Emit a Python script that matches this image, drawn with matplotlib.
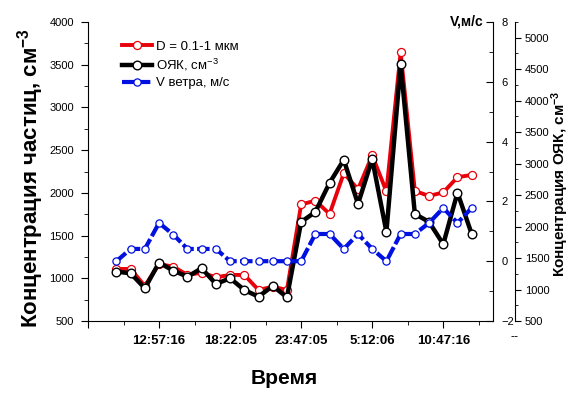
import matplotlib.pyplot as plt
import numpy as np
from matplotlib.ticker import MultipleLocator

plt.rcParams['font.family'] = ['Liberation Sans', 'DejaVu Sans']
plt.rcParams['mathtext.fontset'] = 'custom'
plt.rcParams['mathtext.rm'] = 'Liberation Sans'
plt.rcParams['mathtext.bf'] = 'Liberation Sans:bold'
plt.rcParams['mathtext.default'] = 'regular'

# ---------------------------------------------------------------------------
# data (x = sample index, labelled with times)
# ---------------------------------------------------------------------------
idx = np.arange(2, 28)

d_small = [1109, 1109, 910, 1167, 1136, 1039, 1066, 1012, 1039, 1039, 863, 902, 863,
           1864, 1909, 1753, 2230, 2042, 2438, 2016, 3646, 2022, 1964, 2005, 2183, 2210]

oyak = [1284, 1258, 1020, 1427, 1300, 1204, 1338, 1088, 1179, 993, 886, 1057, 877,
        2074, 2233, 2694, 3060, 2360, 3071, 1915, 4586, 2201, 2074, 1720, 2540, 1883]

wind = [0, 0.41, 0.41, 1.28, 0.89, 0.41, 0.41, 0.41, 0, 0, 0, 0, 0,
        0, 0.91, 0.91, 0.41, 0.91, 0.41, 0, 0.91, 0.91, 1.28, 1.78, 1.28, 1.78]

xtick_pos = [0, 5, 10, 15, 20, 25]
xtick_labels = ['', '12:57:16', '18:22:05', '23:47:05', '5:12:06', '10:47:16']

# ---------------------------------------------------------------------------
fig = plt.figure(figsize=(5.83, 3.95), dpi=100)
ax = fig.add_axes([88 / 583, 1 - 321 / 395, 405 / 583, 299 / 395])
ax_k = ax.twinx()
ax_v = ax.twinx()
for a in (ax_k, ax_v):
    a.patch.set_visible(False)

l1, = ax.plot(idx, d_small, color='#e8000b', lw=2.8, marker='o', ms=5.8,
              mfc='white', mec='#e8000b', mew=0.9, label='D = 0.1-1 мкм')
l2, = ax_k.plot(idx, oyak, color='black', lw=3.2, marker='o', ms=6.2,
                mfc='white', mec='black', mew=1.0, label='ОЯК, см$^{-3}$')
l3, = ax_v.plot(idx, wind, color='#0010e0', lw=3.0, dashes=(3.0, 0.8), marker='o',
                ms=5.2, mfc='white', mec='#0010e0', mew=0.9, label='V ветра, м/с')

# left axis
ax.set_xlim(0, 28.5)
ax.set_ylim(500, 4000)
ax.yaxis.set_major_locator(MultipleLocator(500))
ax.yaxis.set_minor_locator(MultipleLocator(250))
ax.set_xticks(xtick_pos)
ax.set_xticklabels(xtick_labels, fontsize=9.5, fontweight='bold')
ax.xaxis.set_minor_locator(MultipleLocator(2.5))
ax.tick_params(axis='y', labelsize=8, length=5, pad=5)
ax.tick_params(axis='y', which='minor', length=3)
ax.tick_params(axis='x', length=5, pad=5)
ax.tick_params(axis='x', which='minor', length=3)
ax.spines['top'].set_visible(False)
ax.spines['right'].set_visible(False)
ax.text(30, -0.035, '--', transform=ax.get_xaxis_transform(), ha='center', va='top',
        fontsize=9, clip_on=False)

# wind axis (right, inner)
ax_v.set_ylim(-2, 8)
ax_v.yaxis.set_major_locator(MultipleLocator(2))
ax_v.yaxis.set_minor_locator(MultipleLocator(1))
ax_v.tick_params(axis='y', direction='in', labelsize=8, length=5, pad=6)
ax_v.tick_params(axis='y', which='minor', direction='in', length=3)
for s in ('top', 'left', 'bottom'):
    ax_v.spines[s].set_visible(False)
fig.text(484 / 583, 1 - 22 / 395, 'V,м/с', ha='right', va='center',
         fontsize=10, fontweight='bold')

# OYAK axis (right, offset)
ax_k.spines['right'].set_position(('outward', 15.8))
ax_k.set_ylim(500, 5250)
ax_k.yaxis.set_major_locator(MultipleLocator(500))
ax_k.yaxis.set_minor_locator(MultipleLocator(250))
ax_k.tick_params(axis='y', labelsize=8, length=4, pad=3)
ax_k.tick_params(axis='y', which='minor', length=2.5)
for s in ('top', 'left', 'bottom'):
    ax_k.spines[s].set_visible(False)

# labels
fig.text(31 / 583, 1 - 178 / 395, 'Концентрация частиц, см$^{\\mathbf{-3}}$',
         rotation=90, ha='center', va='center', fontsize=16, fontweight='bold')
fig.text(560 / 583, 1 - 184 / 395, 'Концентрация ОЯК, см$^{\\mathbf{-3}}$',
         rotation=90, ha='center', va='center', fontsize=11, fontweight='bold')
fig.text(284 / 583, 1 - 379 / 395, 'Время', ha='center', va='center',
         fontsize=15, fontweight='bold')

ax_v.legend([l1, l2, l3], [l1.get_label(), l2.get_label(), l3.get_label()],
            loc='upper left', bbox_to_anchor=(0.07, 0.955), frameon=False,
            fontsize=9.5, handlelength=2.3, handletextpad=0.3, labelspacing=0.3,
            borderaxespad=0)

fig.savefig('out.png', dpi=100, facecolor='white')
